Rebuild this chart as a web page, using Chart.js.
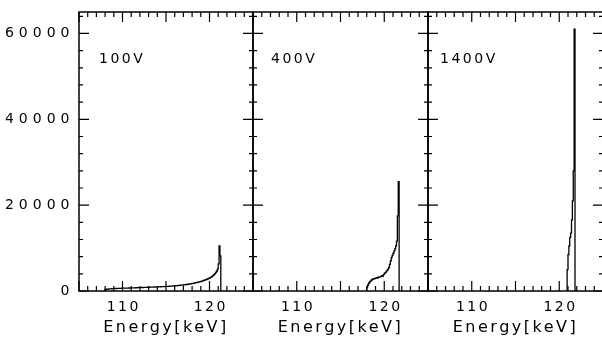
<!DOCTYPE html>
<html>
<head>
<meta charset="utf-8">
<script src="https://cdn.jsdelivr.net/npm/chart.js@4.4.0/dist/chart.umd.min.js"></script>
<style>
  html, body { margin: 0; padding: 0; background: #fff; overflow: hidden; }
  #wrap { position: relative; width: 602px; height: 338px; overflow: hidden; }
  canvas { position: absolute; top: 0; }
</style>
</head>
<body>
<div id="wrap">
  <canvas id="c1" width="254" height="338" style="left:0px"></canvas>
  <canvas id="c2" width="177" height="338" style="left:252px"></canvas>
  <canvas id="c3" width="177" height="338" style="left:427px"></canvas>
</div>
<script>
'use strict';

// histogram data, bin width 0.1 keV, first bin left edge given by start*
var binWidth = 0.1;

var start100 = 108.0;
var counts100 = [
  250, 360, 410, 440, 460, 480, 500, 510, 520, 540,
  550, 560, 570, 580, 590, 600, 600, 610, 620, 630,
  640, 650, 650, 660, 670, 680, 680, 690, 700, 700,
  710, 720, 730, 730, 740, 750, 760, 760, 770, 780,
  790, 790, 800, 810, 820, 830, 830, 840, 850, 860,
  870, 870, 880, 890, 900, 910, 920, 930, 930, 940,
  950, 960, 970, 980, 990, 1000, 1010, 1020, 1030, 1040,
  1050, 1060, 1080, 1090, 1100, 1120, 1130, 1150, 1160, 1180,
  1190, 1210, 1230, 1250, 1260, 1280, 1300, 1330, 1350, 1370,
  1400, 1420, 1450, 1480, 1510, 1540, 1570, 1600, 1640, 1680,
  1710, 1750, 1790, 1840, 1880, 1930, 1980, 2030, 2080, 2140,
  2200, 2260, 2320, 2380, 2450, 2520, 2600, 2680, 2760, 2850,
  2950, 3060, 3180, 3310, 3460, 3630, 3830, 4060, 4330, 4650,
  5100, 6300, 10500, 8200
];

var start400 = 118.0;
var counts400 = [
  400, 900, 1400, 1800, 2100, 2300, 2500, 2700, 2800, 2900,
  2900, 3000, 3100, 3000, 3200, 3300, 3300, 3400, 3600, 3500,
  3800, 4100, 4300, 4500, 4800, 5100, 5500, 6200, 7000, 7800,
  8300, 8800, 9300, 9800, 10500, 11600, 17500, 25500
];

var start1400 = 120.9;
var counts1400 = [1500, 5000, 8500, 10500, 12500, 13500, 16500, 21000, 28000, 61000];

var panelLabels = ['100V', '400V', '1400V'];
var xTickValues = [110, 120];
var yTickValues = [0, 20000, 40000, 60000];
var xTitle = 'Energy[keV]';

var fontFamily = '"DejaVu Sans", sans-serif';
var xSpacing = 2.5;     // x tick labels and title
var ySpacing = 5;       // y tick labels
var labelSpacing = 2.5; // panel labels

function toSteps(start, counts) {
  var pts = [{ x: start, y: 0 }];
  counts.forEach(function (c, i) {
    pts.push({ x: Math.round((start + i * binWidth) * 100) / 100, y: c });
  });
  pts.push({ x: Math.round((start + counts.length * binWidth) * 100) / 100, y: 0 });
  return pts;
}

// frame with inward ticks on all four sides + panel label
var frameTicks = {
  id: 'frameTicks',
  beforeDraw: function (chart) {
    chart.ctx.letterSpacing = xSpacing + 'px';
  },
  afterDatasetsDraw: function (chart, args, opts) {
    var ctx = chart.ctx;
    var a = chart.chartArea;
    var xs = chart.scales.x;
    var ys = chart.scales.y;
    var e, v, p, len;
    ctx.save();
    ctx.strokeStyle = '#000';
    ctx.lineWidth = 1.2;
    ctx.beginPath();
    for (e = 105; e <= 125; e++) {
      p = xs.getPixelForValue(e);
      len = e % 5 === 0 ? 10 : 5;
      ctx.moveTo(p, a.bottom); ctx.lineTo(p, a.bottom - len);
      ctx.moveTo(p, a.top); ctx.lineTo(p, a.top + len);
    }
    for (v = 0; v <= 64000; v += 4000) {
      p = ys.getPixelForValue(v);
      len = v % 20000 === 0 ? 10 : 4;
      ctx.moveTo(a.left, p); ctx.lineTo(a.left + len, p);
      ctx.moveTo(a.right, p); ctx.lineTo(a.right - len, p);
    }
    ctx.stroke();
    ctx.lineWidth = 1.5;
    ctx.strokeRect(a.left, a.top, a.right - a.left, a.bottom - a.top);

    ctx.fillStyle = '#000';
    ctx.font = '14px ' + fontFamily;
    ctx.letterSpacing = labelSpacing + 'px';
    ctx.textAlign = 'left';
    ctx.textBaseline = 'middle';
    ctx.fillText(opts.label, a.left + opts.labelX, a.top + 47);
    ctx.restore();
    // y tick labels (ticks.z = 1) are drawn after this point
    ctx.letterSpacing = ySpacing + 'px';
  }
};

function makeChart(id, start, counts, label, labelX, showY) {
  return new Chart(document.getElementById(id), {
    type: 'line',
    data: {
      datasets: [{
        data: toSteps(start, counts),
        stepped: 'after',
        borderColor: '#000',
        borderWidth: 1.3,
        pointRadius: 0,
        fill: false
      }]
    },
    options: {
      responsive: false,
      animation: false,
      events: [],
      layout: { padding: { top: 12, right: 1, left: showY ? 0 : 1, bottom: 0 } },
      plugins: {
        legend: { display: false },
        tooltip: { enabled: false },
        frameTicks: { label: label, labelX: labelX }
      },
      scales: {
        x: {
          type: 'linear',
          min: 105,
          max: 125,
          grid: { display: false, drawTicks: false },
          border: { display: false },
          afterBuildTicks: function (s) {
            s.ticks = xTickValues.map(function (v) { return { value: v }; });
          },
          afterFit: function (s) { s.height = 47; },
          ticks: {
            color: '#000',
            font: { family: fontFamily, size: 14 },
            padding: 8,
            labelOffset: xSpacing / 2,
            maxRotation: 0,
            autoSkip: false,
            callback: function (v) { return String(v); }
          },
          title: {
            display: true,
            text: xTitle,
            color: '#000',
            font: { family: fontFamily, size: 16 },
            padding: { top: 0, bottom: 1 }
          }
        },
        y: {
          display: showY,
          min: 0,
          max: 65000,
          grid: { display: false, drawTicks: false },
          border: { display: false },
          afterBuildTicks: function (s) {
            s.ticks = yTickValues.map(function (v) { return { value: v }; });
          },
          afterFit: function (s) {
            if (showY) { s.width = 79; }
            s.paddingTop = 0;
            s.paddingBottom = 0;
          },
          ticks: {
            z: 1,
            color: '#000',
            font: { family: fontFamily, size: 14 },
            padding: 4.5,
            callback: function (v) { return String(v); }
          }
        }
      }
    },
    plugins: [frameTicks]
  });
}

makeChart('c1', start100, counts100, panelLabels[0], 20, true);
makeChart('c2', start400, counts400, panelLabels[1], 18, false);
makeChart('c3', start1400, counts1400, panelLabels[2], 12, false);
</script>
</body>
</html>
